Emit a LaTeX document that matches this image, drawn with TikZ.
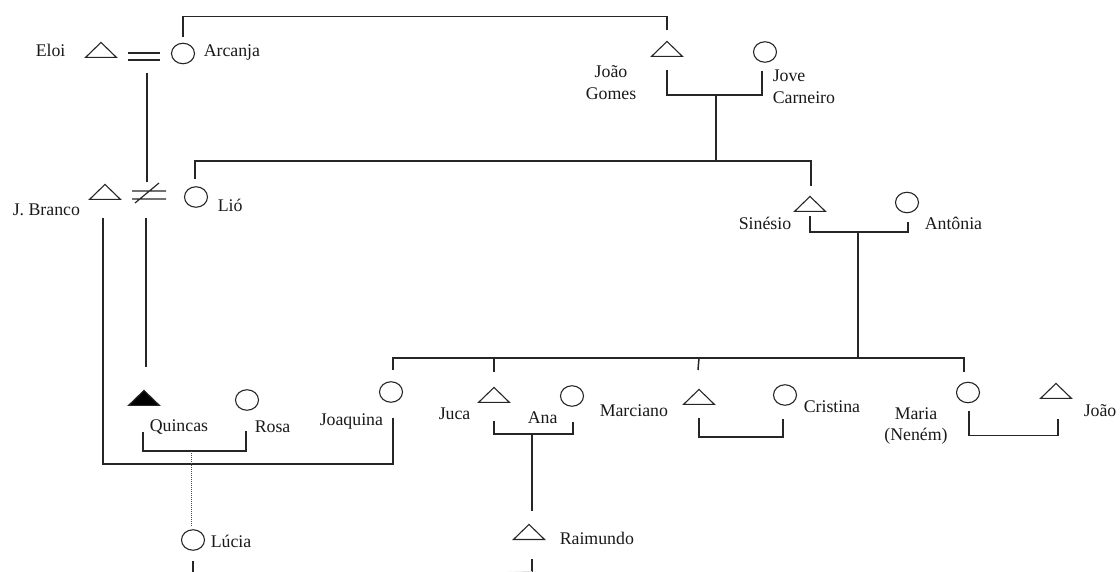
\documentclass[tikz,border=0pt]{standalone}
\usepackage{fontspec}
\setmainfont{Liberation Serif}
\usetikzlibrary{shapes.geometric}
\begin{document}
\begin{tikzpicture}[x=1pt,y=-1pt,
  line width=1.5pt, color=black!85,
  male/.style={isosceles triangle, shape border rotate=90,
    isosceles triangle stretches, minimum width=31pt, minimum height=15pt,
    inner sep=0pt, draw=black!85, line width=1.1pt, anchor=south},
  dead/.style={male, fill=black},
  female/.style={ellipse, minimum width=23pt, minimum height=20.5pt,
    inner sep=0pt, draw=black!85, line width=1.1pt},
  pname/.style={font=\fontsize{17.8}{22}\selectfont, inner sep=0pt, text=black!90},
  lname/.style={pname, anchor=base west},
  descent/.style={densely dotted, line width=1pt, draw=black!70},
  trail/.style={line width=0.6pt, draw=black!15},
]
\useasboundingbox (0,0) rectangle (1120,572);

% ---- people ----
\node[male]   (eloi)     at (101,58) {};
\node[female] (arcanja)  at (183,53.5) {};
\node[male]   (jgomes)   at (667,57) {};
\node[female] (jove)     at (765,52) {};
\node[male]   (jbranco)  at (105,200) {};
\node[female] (lio)      at (196,197) {};
\node[male]   (sinesio)  at (810,212) {};
\node[female] (antonia)  at (907,202.5) {};
\node[dead]   (quincas)  at (144,406) {};
\node[female] (rosa)     at (247,400) {};
\node[female] (joaquina) at (391,392) {};
\node[male]   (juca)     at (494,403) {};
\node[female] (ana)      at (572,396) {};
\node[male]   (marciano) at (699,405) {};
\node[female] (cristina) at (785,395) {};
\node[female] (maria)    at (968,392.5) {};
\node[male]   (joao)     at (1056,399) {};
\node[female] (lucia)    at (193,540) {};
\node[male]   (raimundo) at (529,540) {};

% ---- names (multi-line labels sit on their last baseline) ----
\node[lname] (t-eloi)     at (35,57)   {Eloi};
\node[lname] (t-arcanja)  at (203,57)  {Arcanja};
\node[pname, anchor=base, align=center] (t-jgomes) at (611,100) {João\\Gomes};
\node[pname, anchor=base west, align=left] (t-jove) at (772,104) {Jove\\Carneiro};
\node[lname] (t-jbranco)  at (12,216)  {J. Branco};
\node[lname] (t-lio)      at (217,212) {Lió};
\node[lname] (t-sinesio)  at (738,230) {Sinésio};
\node[lname] (t-antonia)  at (924,230) {Antônia};
\node[lname] (t-quincas)  at (149,431) {Quincas};
\node[lname] (t-rosa)     at (254,432) {Rosa};
\node[lname] (t-joaquina) at (319,425) {Joaquina};
\node[lname] (t-juca)     at (438,419) {Juca};
\node[lname] (t-ana)      at (527,423) {Ana};
\node[lname] (t-marciano) at (599,416) {Marciano};
\node[lname] (t-cristina) at (803,412) {Cristina};
\node[pname, anchor=base, align=center, font=\fontsize{17.8}{21}\selectfont] (t-maria) at (916,440) {Maria\\(Neném)};
\node[lname] (t-joao)     at (1083,416) {João};
\node[lname] (t-lucia)    at (210,547) {Lúcia};
\node[lname] (t-raimundo) at (559,544) {Raimundo};

% ---- marriage marks ----
\coordinate (m1) at (144,56.5);
\coordinate (m2) at (147,195);
\draw[line width=1.2pt] ([shift={(-16,-3.5)}]m1) -- ++(32,0)
      ([shift={(-16,3.5)}]m1) -- ++(32,0);
\draw[line width=1.2pt] ([shift={(-15,-4)}]m2) -- ++(34,0)
      ([shift={(-15,4)}]m2) -- ++(34,0)
      ([shift={(-12,8)}]m2) -- ([shift={(12,-12)}]m2);

% ---- lines of descent ----
\draw ([shift={(0,-6)}]arcanja.north) -- ++(0,-20) -| ([shift={(0,-10)}]jgomes.apex);
\draw ([shift={(3,16.5)}]m1) -- ([shift={(0,-13)}]m2);
\draw ([shift={(-1,23)}]m2) -- ([shift={(2,-22)}]quincas.apex);

% João Gomes + Jove Carneiro
\draw ([shift={(0,13)}]jgomes.south) -- ++(0,25) -| ([shift={(-3,8)}]jove.south);
\coordinate (c1) at (716,95);
\draw (c1) -- ++(0,67);
\draw ([shift={(-1,-7)}]lio.north) -- ++(0,-18) -| ([shift={(1,-9)}]sinesio.apex);

% Sinésio + Antônia and their children
\draw ([shift={(0,4)}]sinesio.south) -- ++(0,16) -| ([shift={(1,9)}]antonia.south);
\coordinate (c2) at (858,232);
\coordinate (sib) at (858,358);
\draw (c2) -- (sib);
\draw ([shift={(2,-11)}]joaquina.north) |- (sib) -| ([shift={(-4,-10)}]maria.north);
\draw ([shift={(0,-14)}]juca.apex) -- (juca.apex |- sib);
\draw ([shift={(-1,-18)}]marciano.apex) -- (marciano.apex |- sib);

% Joaquina + J. Branco
\draw ([shift={(2,15)}]joaquina.south) -- ++(0,46) -| ([shift={(-2,18)}]jbranco.south);

% Quincas + Rosa, and Lúcia
\draw ([shift={(-1,26)}]quincas.south) -- ++(0,19) -| ([shift={(-1,20)}]rosa.south);
\coordinate (c3) at (191,451);
\draw[descent] (c3) -- ([shift={(-2,-3)}]lucia.north);
\draw ([shift={(0,10)}]lucia.south) -- ++(0,14);

% Juca + Ana, and Raimundo
\draw ([shift={(0,18)}]juca.south) -- ++(0,13) -| ([shift={(1,15)}]ana.south);
\coordinate (c4) at (532,434);
\draw (c4) -- ([shift={(3,-12)}]raimundo.apex);
\draw ([shift={(3,19)}]raimundo.south) -- ++(0,14);
\draw[trail] ([shift={(0,31.5)}]lucia.south) -- ([shift={(3,31.5)}]raimundo.south);

% Marciano + Cristina
\draw ([shift={(0,13)}]marciano.south) -- ++(0,19) -| ([shift={(-2,13)}]cristina.south);

% Maria (Neném) + João
\draw ([shift={(1,8)}]maria.south) -- ++(0,24) -| ([shift={(2,20)}]joao.south);
\end{tikzpicture}
\end{document}
